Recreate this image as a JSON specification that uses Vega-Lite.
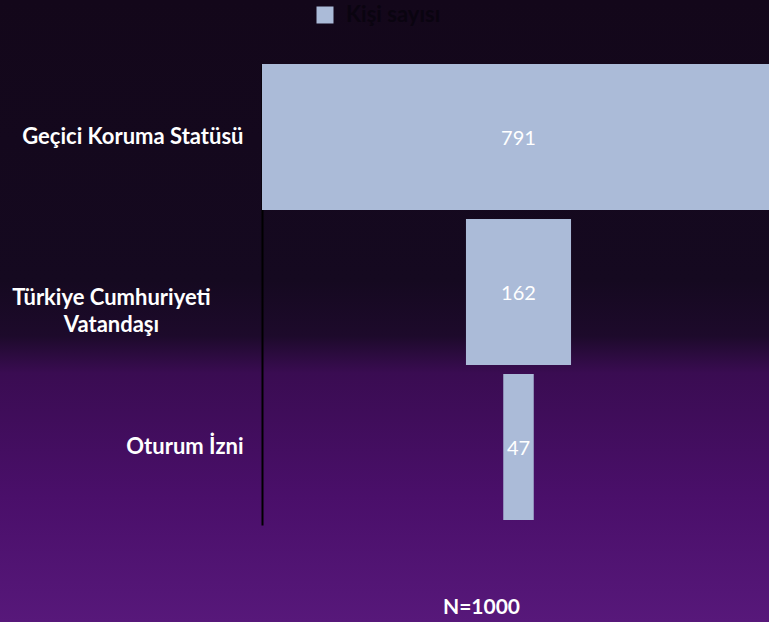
{
  "$schema": "https://vega.github.io/schema/vega-lite/v6.json",
  "width": 769,
  "height": 622,
  "autosize": {"type": "none"},
  "padding": 0,
  "background": "#2a0c3a",
  "view": {
    "stroke": null,
    "fill": {
      "gradient": "linear", "x1": 0, "y1": 0, "x2": 0, "y2": 1,
      "stops": [
        {"offset": 0, "color": "#13071a"},
        {"offset": 0.45, "color": "#150920"},
        {"offset": 0.54, "color": "#1d0a2b"},
        {"offset": 0.6, "color": "#3a0c52"},
        {"offset": 0.8, "color": "#4a0f6a"},
        {"offset": 1, "color": "#57187a"}
      ]
    }
  },
  "data": {
    "values": [
      {"category": "Geçici Koruma Statüsü", "count": 791},
      {"category": "Türkiye Cumhuriyeti Vatandaşı", "count": 162},
      {"category": "Oturum İzni", "count": 47}
    ]
  },
  "title": {
    "text": "N=1000",
    "orient": "bottom",
    "anchor": "middle",
    "frame": "group",
    "offset": -25,
    "dx": 97,
    "font": "Lato",
    "fontSize": 21,
    "fontWeight": "bold",
    "color": "#ffffff"
  },
  "encoding": {
    "y": {
      "field": "category",
      "type": "nominal",
      "sort": null,
      "title": null,
      "scale": {"range": [64, 525], "paddingInner": 0.058, "paddingOuter": 0.016, "align": 0},
      "axis": {
        "orient": "left",
        "offset": -262,
        "domainColor": "#000000",
        "domainWidth": 2,
        "ticks": false,
        "grid": false,
        "labelFont": "Lato",
        "labelFontSize": 22,
        "labelFontWeight": "bold",
        "labelColor": "#ffffff",
        "labelLimit": 300,
        "labelLineHeight": 27,
        "labelExpr": "datum.value == 'Türkiye Cumhuriyeti Vatandaşı' ? ['Türkiye Cumhuriyeti', 'Vatandaşı'] : datum.value",
        "labelAlign": {"condition": {"test": "datum.value == 'Türkiye Cumhuriyeti Vatandaşı'", "value": "center"}, "value": "right"},
        "labelPadding": {"condition": {"test": "datum.value == 'Türkiye Cumhuriyeti Vatandaşı'", "value": 151}, "value": 19},
        "labelOffset": {"condition": {"test": "datum.value == 'Türkiye Cumhuriyeti Vatandaşı'", "value": 6}, "value": 0}
      }
    }
  },
  "layer": [
    {
      "mark": {"type": "bar", "clip": true},
      "encoding": {
        "x": {
          "field": "count",
          "type": "quantitative",
          "stack": "center",
          "scale": {"domain": [0, 791], "range": [262, 775], "zero": false, "nice": false},
          "axis": null
        },
        "color": {
          "datum": "Kişi sayısı",
          "type": "nominal",
          "scale": {"range": ["#abbbd8"]},
          "legend": {
            "title": null,
            "orient": "none",
            "legendX": 314,
            "legendY": 4,
            "symbolType": "square",
            "symbolSize": 289,
            "symbolStrokeWidth": 0,
            "labelFont": "Lato",
            "labelFontSize": 22,
            "labelFontWeight": "bold",
            "labelColor": "#0a0410",
            "labelOffset": 10
          }
        }
      }
    },
    {
      "mark": {"type": "text", "color": "#ffffff", "font": "Lato", "fontSize": 20, "align": "center", "baseline": "middle", "dy": 2},
      "encoding": {
        "x": {
          "field": "count",
          "type": "quantitative",
          "stack": "center",
          "bandPosition": 0.5
        },
        "text": {"field": "count", "type": "quantitative"}
      }
    }
  ]
}
